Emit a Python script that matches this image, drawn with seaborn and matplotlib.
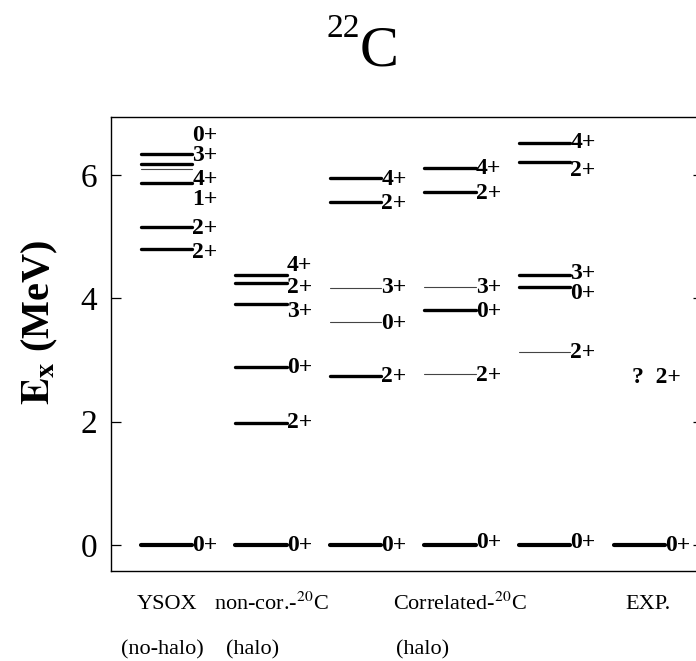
import numpy as np
import pandas as pd
import matplotlib
matplotlib.use("Agg")
import matplotlib.pyplot as plt
import seaborn as sns

# ---------------- data ----------------
columns = ["YSOX", "non-cor", "Corr-a", "Corr-b", "Corr-c", "EXP"]

ysox_E = [6.34, 6.18, 6.10, 5.87, 5.15, 4.80, 0.0]
ysox_J = ["0+", "3+", "4+", "1+", "2+", "2+", "0+"]
ysox_w = ["thick", "thick", "thin", "thick", "thick", "thick", "bold"]

noncor_E = [4.38, 4.25, 3.91, 2.88, 1.98, 0.0]
noncor_J = ["4+", "2+", "3+", "0+", "2+", "0+"]
noncor_w = ["thick", "thick", "thick", "thick", "thick", "bold"]

corra_E = [5.95, 5.56, 4.17, 3.61, 2.74, 0.0]
corra_J = ["4+", "2+", "3+", "0+", "2+", "0+"]
corra_w = ["thick", "thick", "thin", "thin", "thick", "bold"]

corrb_E = [6.11, 5.72, 4.18, 3.81, 2.77, 0.0]
corrb_J = ["4+", "2+", "3+", "0+", "2+", "0+"]
corrb_w = ["thick", "thick", "thin", "thick", "thin", "bold"]

corrc_E = [6.52, 6.21, 4.38, 4.18, 3.13, 0.0]
corrc_J = ["4+", "2+", "3+", "0+", "2+", "0+"]
corrc_w = ["thick", "thick", "thick", "thick", "thin", "bold"]

exp_E = [0.0]
exp_J = ["0+"]
exp_w = ["bold"]
exp_tentative_E = 2.72
exp_tentative_J = "?  2+"

bottom_row1 = ["YSOX", "non-cor.-$^{20}$C", "Correlated-$^{20}$C", "EXP."]
bottom_row2 = ["(no-halo)", "(halo)", "(halo)"]

# ---------------- layout (label positions, not data) ----------------
label_y = {
    0: [6.64, 6.32, 5.92, 5.61, 5.14, 4.75, 0.0],
    1: [4.54, 4.18, 3.79, 2.88, 1.98, 0.0],
    2: [5.93, 5.54, 4.17, 3.60, 2.73, 0.0],
    3: [6.11, 5.70, 4.18, 3.78, 2.75, 0.04],
    4: [6.52, 6.08, 4.41, 4.08, 3.13, 0.04],
    5: [0.0],
}
row1_x = [0.01, 1.11, 3.11, 5.10]
row2_x = [-0.04, 0.91, 2.71]
half = 0.27

levels = [
    (ysox_E, ysox_J, ysox_w),
    (noncor_E, noncor_J, noncor_w),
    (corra_E, corra_J, corra_w),
    (corrb_E, corrb_J, corrb_w),
    (corrc_E, corrc_J, corrc_w),
    (exp_E, exp_J, exp_w),
]

rows = []
uid = 0
for ci, (E, J, W) in enumerate(levels):
    for e, j, w in zip(E, J, W):
        rows.append(dict(x=ci - half, E=e, w=w, unit=uid))
        rows.append(dict(x=ci + half, E=e, w=w, unit=uid))
        uid += 1
df = pd.DataFrame(rows)

# ---------------- figure ----------------
sns.set_theme(style="ticks")
plt.rcParams["font.family"] = ["Liberation Serif", "DejaVu Serif"]
plt.rcParams["mathtext.fontset"] = "stix"
plt.rcParams["text.color"] = "black"
plt.rcParams["axes.labelcolor"] = "black"
plt.rcParams["xtick.color"] = "black"
plt.rcParams["ytick.color"] = "black"

fig = plt.figure(figsize=(6.96, 6.61), dpi=100)
ax = fig.add_axes([111 / 696, 1 - 571 / 661, (703 - 111) / 696, (571 - 117) / 661])

sns.lineplot(
    data=df, x="x", y="E", units="unit", estimator=None, sort=False,
    hue="w", palette={"bold": "black", "thick": "black", "thin": "#444444"},
    size="w", sizes={"bold": 3.0, "thick": 2.4, "thin": 0.8},
    legend=False, ax=ax,
)

for ci, (E, J, W) in enumerate(levels):
    for j, ly in zip(J, label_y[ci]):
        ax.text(ci + half + 0.005, ly, j, ha="left", va="center",
                fontsize=17, fontweight="bold", color="black")

ax.text(5 - 0.07, exp_tentative_E, exp_tentative_J, ha="left", va="center",
        fontsize=17, fontweight="bold", color="black")

ax.set_xlim(-0.587, 5.677)
ax.set_ylim(-0.42, 6.94)
ax.set_xticks([])
ax.set_yticks([0, 2, 4, 6])
ax.tick_params(axis="y", direction="in", length=7, width=0.9, right=True,
               labelsize=24, pad=10, colors="black")
for s in ax.spines.values():
    s.set_linewidth(1.0)
    s.set_color("black")
ax.set_xlabel("")
ax.set_ylabel("")

trans = matplotlib.transforms.blended_transform_factory(ax.transData, ax.transAxes)
for x, t in zip(row1_x, bottom_row1):
    ax.text(x, -0.073, t, transform=trans, ha="center", va="center", fontsize=16,
            color="black")
for x, t in zip(row2_x, bottom_row2):
    ax.text(x, -0.174, t, transform=trans, ha="center", va="center", fontsize=16,
            color="black")

fig.text(40 / 696, 1 - 322 / 661, r"$\mathbf{E}_{\mathbf{x}}$ (MeV)", rotation=90,
         ha="center", va="center", fontsize=29, fontweight="bold", color="black")

fig.text(360 / 696, 1 - 29 / 661, "22", ha="right", va="center", fontsize=24,
         color="black")
fig.text(360 / 696, 1 - 52 / 661, "C", ha="left", va="center", fontsize=42,
         color="black")

fig.savefig("out.png", dpi=100)
